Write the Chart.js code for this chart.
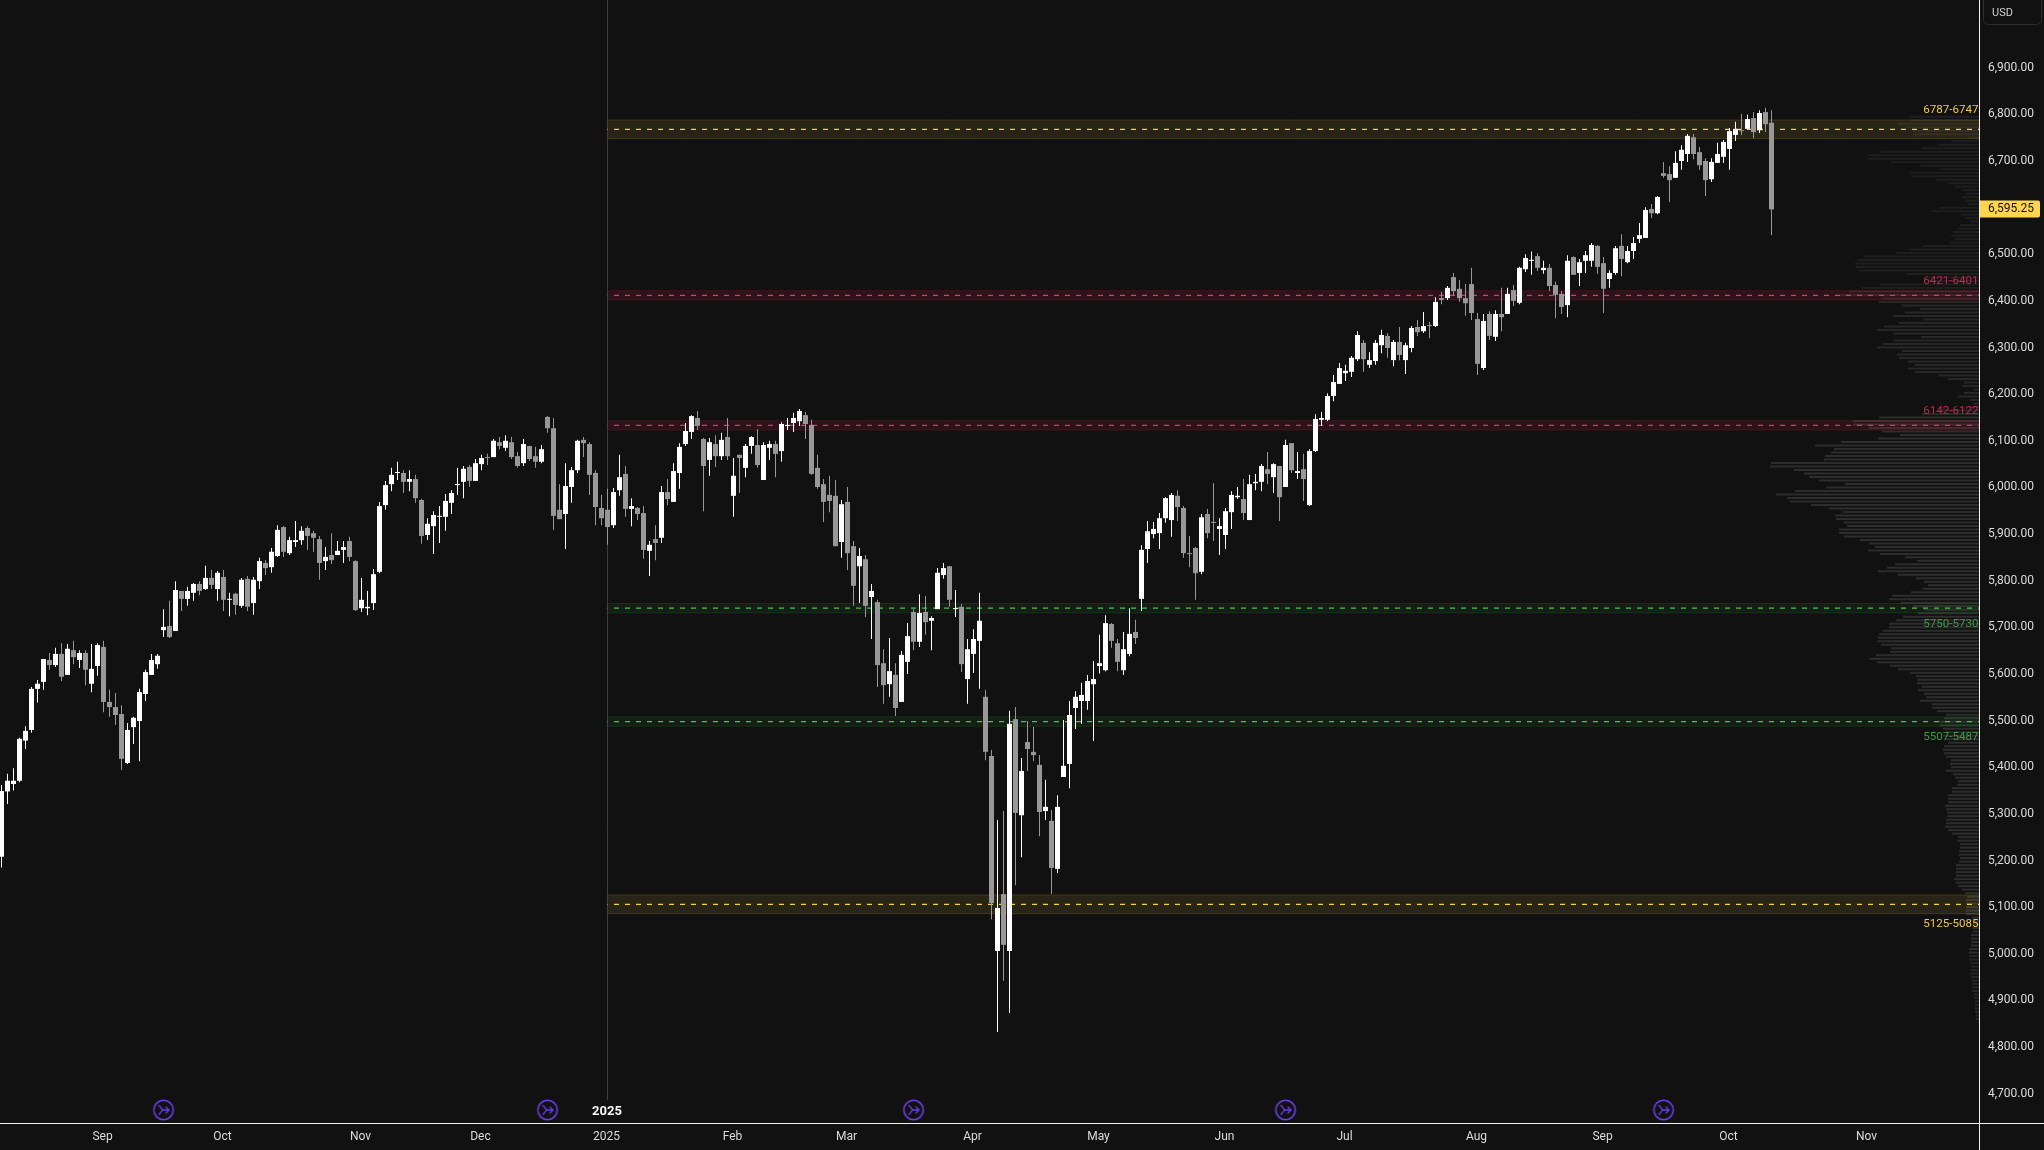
<!DOCTYPE html>
<html>
<head>
<meta charset="utf-8">
<style>html,body{margin:0;padding:0;background:#111111;overflow:hidden}canvas{display:block}</style>
<script src="https://cdn.jsdelivr.net/npm/chart.js@4/dist/chart.umd.min.js"></script>
</head>
<body>
<canvas id="c" width="2044" height="1150"></canvas>
<script>
const opens=[5207,5347,5363,5370,5456,5479,5567,5582,5629,5618,
5642,5597,5650,5629,5644,5578,5616,5657,5539,5528,
5513,5408,5485,5498,5556,5597,5620,5693,5702,5691,
5777,5760,5773,5792,5781,5805,5781,5807,5758,5771,
5745,5803,5751,5798,5837,5828,5852,5914,5858,5882,
5886,5912,5901,5888,5841,5854,5854,5865,5884,5841,
5740,5740,5751,5818,5961,6006,6030,6030,6011,6017,
5972,5897,5916,5936,5936,5966,6004,6011,6043,6013,
6049,6064,6064,6096,6084,6096,6066,6051,6088,6066,
6054,6150,6126,5951,5942,6000,6036,6101,6092,6030,
5955,5951,5918,5993,6028,5953,5955,5944,5863,5888,
5891,5989,5968,6030,6092,6118,6148,6103,6058,6092,
6066,6107,5981,6069,6041,6088,6090,6015,6084,6092,
6077,6131,6137,6141,6154,6133,6041,6006,5983,5981,
5882,5968,5873,5830,5845,5764,5753,5622,5577,5597,
5539,5625,5732,5668,5732,5713,5738,5811,5830,5738,
5743,5588,5642,5670,5550,5423,5005,5127,5005,5502,
5296,5453,5432,5404,5305,5284,5181,5378,5406,5526,
5541,5541,5577,5616,5607,5706,5665,5607,5642,5689,
5760,5867,5899,5901,5933,5929,5981,5955,5858,5869,
5818,5942,5925,5910,5897,5946,5978,5974,5929,6008,
6011,6038,6021,6045,6000,6094,6030,6038,5961,6077,
6144,6144,6195,6221,6244,6247,6274,6309,6262,6270,
6304,6324,6272,6311,6272,6298,6343,6334,6347,6345,
6405,6405,6450,6425,6405,6435,6360,6255,6371,6322,
6371,6371,6422,6395,6467,6485,6495,6465,6470,6433,
6414,6390,6493,6459,6485,6485,6517,6480,6446,6459,
6517,6482,6506,6532,6534,6596,6587,6673,6671,6663,
6699,6714,6750,6718,6699,6660,6695,6708,6725,6755,
6765,6768,6791,6765,6804,6781];
const closes=[5348,5370,5370,5460,5477,5567,5578,5631,5618,5642,
5593,5653,5635,5644,5608,5610,5661,5539,5528,5511,
5417,5479,5505,5560,5603,5629,5638,5700,5678,5779,
5760,5777,5792,5777,5805,5790,5816,5758,5760,5747,
5801,5743,5801,5841,5826,5861,5908,5861,5886,5886,
5906,5895,5891,5837,5850,5843,5863,5871,5850,5736,
5758,5743,5813,5959,6004,6026,6032,6011,6017,5976,
5895,5921,5940,5938,5970,5987,6006,6039,6013,6051,
6062,6062,6099,6088,6099,6064,6045,6092,6060,6054,
6081,6126,5938,5931,6002,6036,6099,6094,6026,5957,
5933,5914,5989,6021,5953,5959,5942,5865,5876,5880,
5989,5974,6034,6086,6120,6152,6131,6045,6096,6066,
6101,6066,6024,6062,6088,6107,6047,6090,6092,6071,
6135,6133,6148,6163,6135,6028,6000,5968,5970,5873,
5963,5858,5788,5852,5745,5777,5618,5575,5605,5526,
5640,5680,5668,5730,5710,5719,5816,5826,5758,5740,
5620,5652,5674,5713,5432,5108,5097,5018,5492,5301,
5391,5438,5425,5303,5314,5183,5314,5402,5511,5550,
5554,5584,5588,5622,5708,5670,5625,5652,5685,5676,
5865,5905,5910,5933,5976,5983,5957,5858,5856,5815,
5935,5901,5923,5916,5948,5983,5981,5944,6006,6011,
6045,6028,6049,5978,6090,6036,6034,6017,6077,6146,
6148,6195,6225,6255,6249,6277,6326,6274,6272,6309,
6326,6298,6311,6283,6304,6341,6332,6345,6345,6397,
6401,6427,6420,6405,6394,6373,6264,6356,6324,6371,
6364,6414,6399,6470,6491,6487,6470,6470,6431,6412,
6386,6485,6455,6482,6497,6519,6472,6425,6459,6512,
6489,6506,6523,6540,6594,6587,6622,6667,6658,6695,
6723,6753,6714,6690,6658,6697,6714,6740,6763,6768,
6763,6789,6761,6802,6778,6595.25];
const highs=[5361,5385,5397,5462,5487,5571,5586,5631,5644,5655,
5665,5663,5670,5650,5650,5663,5665,5670,5565,5558,
5532,5494,5507,5567,5608,5642,5642,5738,5756,5798,
5777,5786,5794,5798,5831,5822,5820,5822,5773,5773,
5805,5809,5807,5848,5843,5869,5918,5916,5893,5927,
5916,5916,5906,5895,5871,5901,5884,5884,5893,5843,
5805,5777,5824,5968,6013,6041,6054,6036,6036,6026,
5974,5933,5948,5959,5985,5993,6041,6045,6047,6060,
6069,6071,6103,6107,6111,6107,6075,6103,6088,6086,
6090,6152,6148,6006,6051,6043,6101,6107,6096,6036,
5983,5996,5998,6069,6045,5976,5957,5959,5884,5918,
6002,6017,6051,6094,6137,6154,6163,6105,6105,6111,
6116,6148,6062,6069,6092,6109,6124,6096,6099,6099,
6139,6148,6159,6167,6161,6144,6069,6017,6024,6015,
5972,6000,5884,5869,5854,5792,5758,5652,5676,5622,
5648,5708,5738,5770,5766,5723,5826,5837,5830,5779,
5749,5674,5695,5773,5565,5436,5286,5305,5520,5528,
5419,5498,5485,5425,5372,5307,5339,5500,5541,5562,
5580,5597,5627,5683,5725,5708,5674,5689,5740,5715,
5875,5927,5925,5944,5978,5987,5993,5959,5895,5871,
5942,5953,6008,5933,5955,5991,6000,6017,6026,6028,
6049,6075,6051,6045,6101,6094,6075,6071,6081,6156,
6161,6201,6240,6266,6262,6281,6334,6315,6289,6315,
6337,6330,6315,6343,6309,6345,6358,6375,6354,6407,
6418,6431,6459,6444,6435,6470,6373,6371,6377,6379,
6427,6427,6433,6472,6499,6505,6501,6485,6478,6440,
6420,6497,6495,6489,6506,6523,6519,6493,6465,6517,
6542,6517,6536,6566,6600,6607,6624,6697,6688,6720,
6733,6757,6757,6729,6705,6705,6738,6744,6770,6783,
6800,6798,6804,6808,6813,6808];
const lows=[5184,5320,5349,5367,5438,5473,5538,5565,5608,5614,
5584,5597,5620,5612,5575,5560,5595,5517,5507,5490,
5393,5406,5449,5412,5541,5597,5610,5678,5676,5691,
5734,5745,5756,5768,5779,5781,5756,5734,5723,5726,
5741,5734,5726,5781,5811,5816,5850,5850,5854,5871,
5876,5865,5861,5801,5822,5835,5854,5837,5841,5734,
5732,5725,5736,5815,5951,5991,6015,5987,5991,5966,
5878,5886,5856,5880,5906,5942,5983,5976,6000,6013,
6036,6047,6064,6081,6077,6060,6041,6045,6056,6041,
6051,6116,5908,5931,5867,5966,6030,6064,5983,5918,
5918,5876,5912,5981,5936,5916,5929,5846,5809,5843,
5880,5961,5968,5996,6088,6103,6122,5948,6024,6043,
6058,6058,5936,5987,6021,6071,6041,6015,6058,6021,
6054,6122,6118,6131,6103,6026,5996,5925,5946,5873,
5848,5822,5745,5751,5721,5674,5571,5535,5550,5509,
5539,5599,5650,5657,5683,5650,5738,5803,5743,5721,
5603,5535,5601,5567,5414,5073,4831,4941,4872,5146,
5206,5391,5412,5251,5286,5127,5172,5378,5354,5481,
5492,5522,5455,5600,5605,5655,5605,5597,5637,5663,
5734,5837,5890,5867,5923,5893,5927,5848,5828,5758,
5813,5890,5884,5854,5867,5910,5974,5929,5929,5993,
5991,6006,5987,5927,6000,6030,6017,5970,5959,6075,
6131,6141,6184,6221,6227,6236,6270,6247,6255,6262,
6287,6277,6259,6272,6242,6289,6324,6330,6319,6343,
6392,6401,6410,6397,6367,6358,6240,6251,6315,6313,
6334,6371,6388,6392,6461,6455,6463,6457,6420,6362,
6371,6364,6455,6431,6459,6472,6457,6373,6427,6455,
6452,6480,6489,6523,6534,6577,6585,6663,6611,6663,
6680,6697,6703,6680,6624,6654,6695,6695,6680,6742,
6755,6768,6748,6759,6761,6540];

const lastPrice=6595.25;
const yTickValues=[4700,4800,4900,5000,5100,5200,5300,5400,5500,5600,5700,5800,5900,6000,6100,6200,6300,6400,6500,6600,6700,6800,6900];
const monthLabels=['Sep','Oct','Nov','Dec','2025','Feb','Mar','Apr','May','Jun','Jul','Aug','Sep','Oct','Nov'];
const monthBars=[17,37,60,80,101,122,141,162,183,204,224,246,267,288,311];
const eventBars=[27,91,152,214,277];
const eventLevel=4664;
const yearBar=101;
const yearLineTop=7044.3;
const yearLineBottom=4685;

const zoneNames=['6787-6747','6421-6401','6142-6122','5750-5730','5507-5487','5125-5085'];
const zoneTops=[6787,6421,6142,5750,5507,5125];
const zoneBottoms=[6747,6401,6122,5730,5487,5085];
const zoneKinds=['gold','red','red','green','green','gold'];
const zoneLabelAbove=[true,true,true,false,false,false];

const profileTopPrice=6794;
const profileRowSize=7.5;
const profileVolumes=[69,69,81,73,66,66,10,28,41,57,98,110,111,88,58,38,69,68,43,31,25,17,13,17,14,11,40,47,18,13,9,19,21,26,28,24,29,56,69,83,115,122,124,123,120,73,54,49,99,118,
130,139,98,100,77,59,74,86,56,80,95,102,86,58,85,96,102,77,82,80,71,64,71,64,41,31,15,17,6,15,21,9,6,10,40,57,
100,126,126,110,97,79,101,138,164,145,148,154,155,208,209,185,175,170,160,134,153,184,203,192,189,168,150,136,144,143,135,132,140,140,135,119,110,104,111,99,74,62,84,92,101,81,63,55,51,56,68,87,90,78,66,55,61,76,83,90,90,96,100,101,102,98,88,89,103,110,102,89,81,69,63,62,62,57,61,55,53,59,47,47,42,33,35,40,39,36,34,36,33,31,35,36,35,33,28,29,28,33,26,24,21,22,27,27,31,
31,31,34,33,32,32,33,33,34,31,27,21,22,19,19,20,20,19,20,23,23,23,23,25,23,21,17,14,12,13,13,13,13,13,7,6,6,6,6,8,8,8,8,10,10,10,10,9,8,8,9,8,7,7,7,7,5,5,4,4,4,4,3,3,1];

const FONT='Roboto, "Liberation Sans", sans-serif';
const UP='#ffffff', DOWN='#989898';
const kindStyle={
  gold:{fill:'rgba(250,205,70,0.10)',edge:'rgba(250,205,70,0.16)',dash:'#f5d142',text:'#efc94c'},
  red:{fill:'rgba(220,30,85,0.14)',edge:'rgba(220,40,90,0.18)',dash:'#e8336a',text:'#c9234f'},
  green:{fill:'rgba(50,200,80,0.08)',edge:'rgba(60,200,80,0.14)',dash:'#45c552',text:'#3f9a47'}
};
const X_MIN=-0.25, X_MAX=329.5833, Y_MAX=7044.3, Y_MIN=4636;
const candleColors=closes.map((c,i)=>c>=opens[i]?UP:DOWN);

function makeEventIcon(){
  const s=24,cv=document.createElement('canvas');cv.width=s;cv.height=s;
  const g=cv.getContext('2d');g.strokeStyle='#6a3fe6';g.lineWidth=1.6;g.lineCap='round';
  g.beginPath();g.arc(12,12,9.7,0,Math.PI*2);g.stroke();
  g.lineWidth=1.3;
  g.beginPath();g.moveTo(7.5,7.5);g.lineTo(11,11.8);g.lineTo(7.5,16.5);g.stroke();
  g.beginPath();g.moveTo(11,12);g.lineTo(17.5,12);g.moveTo(14.5,9);g.lineTo(17.5,12);g.lineTo(14.5,15);g.stroke();
  return cv;
}
function noPad(s){s.paddingLeft=0;s.paddingRight=0;s.paddingTop=0;s.paddingBottom=0;}
function profileShade(p){return p>6420?'#1f1f1f':p>6150?'#272727':p>5000?'#2d2d2d':'#252525';}

const datasets=[];
const profilePts=[];
profileVolumes.forEach((v,n)=>{
  const p=profileTopPrice-n*profileRowSize;
  profilePts.push({x:0,y:p},{x:v,y:p},{x:NaN,y:NaN});
});
datasets.push({type:'line',xAxisID:'x2',data:profilePts,borderColor:'#2d2d2d',borderWidth:2,pointRadius:0,spanGaps:false,tension:0,order:40,borderCapStyle:'butt',
  segment:{borderColor:c=>profileShade(c.p0.parsed.y)}});
datasets.push({type:'line',data:[{x:yearBar,y:yearLineTop},{x:yearBar,y:yearLineBottom}],borderColor:'#3d3d3d',borderWidth:1,pointRadius:0,order:35});
zoneTops.forEach((t,i)=>{
  const st=kindStyle[zoneKinds[i]], b=zoneBottoms[i], m=(t+b)/2;
  datasets.push({type:'line',data:[{x:yearBar,y:t},{x:X_MAX,y:t}],borderColor:st.edge,borderWidth:1,pointRadius:0,fill:'+1',backgroundColor:st.fill,order:30});
  datasets.push({type:'line',data:[{x:yearBar,y:b},{x:X_MAX,y:b}],borderColor:st.edge,borderWidth:1,pointRadius:0,fill:false,order:30});
  datasets.push({type:'line',data:[{x:yearBar,y:m},{x:X_MAX,y:m}],borderColor:st.dash,borderWidth:1.25,borderDash:[5,6],borderDashOffset:4.5,pointRadius:0,fill:false,order:29});
});
datasets.push({type:'bar',grouped:false,data:highs.map((h,i)=>({x:i,y:[lows[i],h]})),backgroundColor:candleColors,barPercentage:1,categoryPercentage:1,maxBarThickness:1,inflateAmount:0,borderWidth:0,order:10});
datasets.push({type:'bar',grouped:false,data:opens.map((o,i)=>({x:i,y:[o,closes[i]]})),backgroundColor:candleColors,barPercentage:1,categoryPercentage:1,maxBarThickness:5,inflateAmount:0,borderWidth:0,minBarLength:1,order:5});
datasets.push({type:'scatter',data:eventBars.map(b=>({x:b,y:eventLevel})),pointStyle:makeEventIcon(),pointRadius:10,order:1});

const overlay={
  id:'overlay',
  afterDraw(chart){
    const {ctx,scales:{x,y}}=chart;
    ctx.save();
    ctx.fillStyle='#f2f2f2';
    ctx.fillRect(1979,0,1,1150);
    ctx.fillRect(0,1123,2044,1);
    ctx.font='11.6px '+FONT;ctx.textAlign='right';ctx.textBaseline='middle';
    zoneNames.forEach((name,i)=>{
      const py=zoneLabelAbove[i]?y.getPixelForValue(zoneTops[i])-9.8:y.getPixelForValue(zoneBottoms[i])+10.8;
      ctx.fillStyle=kindStyle[zoneKinds[i]].text;
      ctx.fillText(name,1978.5,py);
    });
    ctx.font='bold 13px '+FONT;ctx.textAlign='center';ctx.fillStyle='#f5f5f5';
    ctx.fillText('2025',x.getPixelForValue(yearBar)-0.5,1111.5);
    const ly=y.getPixelForValue(lastPrice);
    ctx.fillStyle='#ffd54f';
    ctx.beginPath();ctx.roundRect(1980,Math.round(ly)-8.5,60,17,[0,2,2,0]);ctx.fill();
    ctx.fillStyle='#111111';ctx.font='12px '+FONT;ctx.textAlign='left';
    ctx.fillText(lastPrice.toLocaleString('en-US',{minimumFractionDigits:2}),1988,ly);
    ctx.strokeStyle='#2e2e2e';ctx.lineWidth=1;
    ctx.beginPath();ctx.roundRect(1983.5,-6,58,30.5,5);ctx.stroke();
    ctx.fillStyle='#d0d0d0';ctx.font='11px '+FONT;ctx.textAlign='left';
    ctx.fillText('USD',1992,13.5);
    ctx.restore();
  }
};

new Chart(document.getElementById('c'),{
  type:'bar',
  data:{datasets},
  plugins:[overlay],
  options:{
    responsive:false,animation:false,devicePixelRatio:1,
    layout:{padding:0,autoPadding:false},
    plugins:{legend:{display:false},tooltip:{enabled:false}},
    scales:{
      x:{type:'linear',min:X_MIN,max:X_MAX,offset:false,position:'bottom',
        grid:{display:false,drawTicks:false,offset:false},border:{display:false},
        afterBuildTicks(s){s.ticks=monthBars.map(v=>({value:v}));},
        afterFit(s){s.height=27;noPad(s);},
        ticks:{autoSkip:false,maxRotation:0,minRotation:0,padding:7,labelOffset:-1,
          color:'#dcdcdc',font:{size:12,family:FONT},
          callback(v,i){return monthLabels[i];}}},
      x2:{type:'linear',min:0,max:1979,reverse:true,offset:false,display:false,position:'bottom',grid:{display:false}},
      y:{type:'linear',position:'right',min:Y_MIN,max:Y_MAX,beginAtZero:false,
        grid:{display:false,drawTicks:false},border:{display:false},
        afterBuildTicks(s){s.ticks=yTickValues.map(v=>({value:v}));},
        afterFit(s){s.width=65;noPad(s);},
        ticks:{padding:9,labelOffset:0.5,color:'#dcdcdc',font:{size:12,family:FONT},
          callback(v){return v.toLocaleString('en-US',{minimumFractionDigits:2});}}}
    }
  }
});
</script>
</body>
</html>
